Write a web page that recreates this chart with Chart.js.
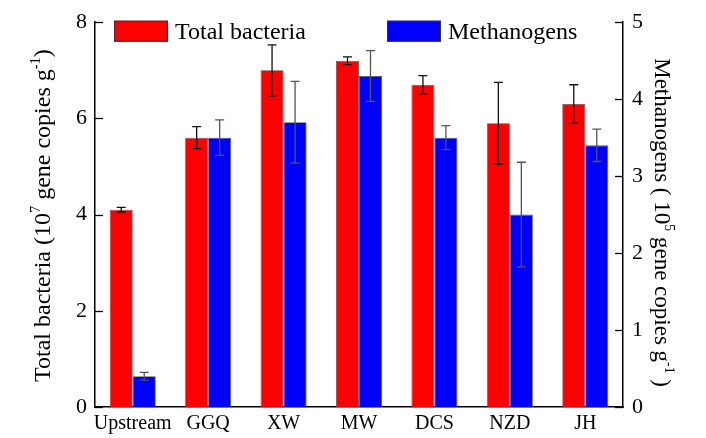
<!DOCTYPE html>
<html>
<head>
<meta charset="utf-8">
<script src="https://cdn.jsdelivr.net/npm/chart.js@4.4.1/dist/chart.umd.min.js"></script>
<style>
  html, body { margin: 0; padding: 0; background: #fff; }
  #wrap { width: 706px; height: 438px; position: relative; }
</style>
</head>
<body>
<div id="wrap"><canvas id="c" width="706" height="438"></canvas></div>
<script>
const categories = ["Upstream", "GGQ", "XW", "MW", "DCS", "NZD", "JH"];
const bacteria = [4.1, 5.6, 7.0, 7.2, 6.7, 5.9, 6.3];
const bacteriaErr = [0.05, 0.23, 0.53, 0.08, 0.19, 0.85, 0.40];
const methanogens = [0.4, 3.5, 3.7, 4.3, 3.5, 2.5, 3.4];
const methanogensErr = [0.05, 0.23, 0.53, 0.33, 0.155, 0.68, 0.21];
const leftTicks = [0, 2, 4, 6, 8];
const rightTicks = [0, 1, 2, 3, 4, 5];
const seriesNames = ["Total bacteria", "Methanogens"];

const FONT = '"Liberation Serif", "Times New Roman", serif';

function richText(ctx, parts, size) {
  let w = 0;
  parts.forEach(p => {
    ctx.font = (p.sup ? size * 0.6 : size) + 'px ' + FONT;
    w += ctx.measureText(p.t).width;
  });
  return w;
}
function drawRich(ctx, parts, cx, cy, rot, size) {
  ctx.save();
  ctx.translate(cx, cy);
  ctx.rotate(rot);
  const w = richText(ctx, parts, size);
  let x = -w / 2;
  ctx.fillStyle = '#000';
  ctx.textBaseline = 'alphabetic';
  ctx.textAlign = 'left';
  parts.forEach(p => {
    const s = p.sup ? size * 0.6 : size;
    ctx.font = s + 'px ' + FONT;
    ctx.fillText(p.t, x, p.sup ? -size * 0.42 : 0);
    x += ctx.measureText(p.t).width;
  });
  ctx.restore();
}

const extrasPlugin = {
  id: 'extras',
  afterDatasetsDraw(chart) {
    const ctx = chart.ctx;
    const area = chart.chartArea;
    // error bars
    const errs = [bacteriaErr, methanogensErr];
    const colors = ['#111', '#555'];
    chart.data.datasets.forEach((ds, di) => {
      const meta = chart.getDatasetMeta(di);
      const scale = chart.scales[ds.yAxisID];
      meta.data.forEach((bar, i) => {
        const v = ds.data[i], e = errs[di][i];
        const yTop = scale.getPixelForValue(v + e);
        const yBot = scale.getPixelForValue(v - e);
        const x = bar.x;
        ctx.save();
        ctx.strokeStyle = colors[di];
        ctx.lineWidth = 1.3;
        ctx.beginPath();
        ctx.moveTo(x, yTop); ctx.lineTo(x, yBot);
        ctx.moveTo(x - 4.5, yTop); ctx.lineTo(x + 4.5, yTop);
        ctx.moveTo(x - 4.5, yBot); ctx.lineTo(x + 4.5, yBot);
        ctx.stroke();
        ctx.restore();
      });
    });
    // inward ticks
    ctx.save();
    ctx.strokeStyle = '#000';
    ctx.lineWidth = 1.3;
    const yl = chart.scales.yL, yr = chart.scales.yR;
    yl.ticks.forEach(t => {
      const y = Math.round(yl.getPixelForValue(t.value)) + 0.5;
      ctx.beginPath(); ctx.moveTo(area.left, y); ctx.lineTo(area.left + 8, y); ctx.stroke();
    });
    yr.ticks.forEach(t => {
      const y = Math.round(yr.getPixelForValue(t.value)) + 0.5;
      ctx.beginPath(); ctx.moveTo(area.right, y); ctx.lineTo(area.right - 8, y); ctx.stroke();
    });
    ctx.restore();
    // legend
    const legendFill = ['#FF0000', '#0000FF'];
    const boxX = [area.left + 19, area.left + 292];
    ctx.save();
    seriesNames.forEach((name, i) => {
      ctx.fillStyle = legendFill[i];
      ctx.fillRect(boxX[i], area.top - 1.5, 54, 21);
      ctx.strokeStyle = '#333';
      ctx.lineWidth = 1;
      ctx.strokeRect(boxX[i] + 0.5, area.top - 1.5 + 0.5, 53, 20);
      ctx.fillStyle = '#000';
      ctx.font = '24px ' + FONT;
      ctx.textBaseline = 'alphabetic';
      ctx.textAlign = 'left';
      ctx.fillText(name, boxX[i] + 61, area.top + 16.5);
    });
    ctx.restore();
    // axis titles
    drawRich(ctx, [
      {t: 'Total bacteria (10'}, {t: '7', sup: true}, {t: ' gene copies g'}, {t: '-1', sup: true}, {t: ')'}
    ], 50, (area.top + area.bottom) / 2 + 1, -Math.PI / 2, 24);
    drawRich(ctx, [
      {t: 'Methanogens ( 10'}, {t: '5', sup: true}, {t: ' gene copies g'}, {t: '-1', sup: true}, {t: ' )'}
    ], 655, (area.top + area.bottom) / 2 + 8, Math.PI / 2, 23);
  }
};

new Chart(document.getElementById('c'), {
  type: 'bar',
  data: {
    labels: categories,
    datasets: [
      { label: seriesNames[0], data: bacteria, yAxisID: 'yL', backgroundColor: '#FF0000', borderColor: '#555', borderWidth: 0.8, borderSkipped: 'bottom' },
      { label: seriesNames[1], data: methanogens, yAxisID: 'yR', backgroundColor: '#0000FF', borderColor: '#555', borderWidth: 0.8, borderSkipped: 'bottom' }
    ]
  },
  options: {
    responsive: false,
    animation: false,
    devicePixelRatio: 1,
    layout: { padding: { top: 19, left: 0, right: 0, bottom: 0 } },
    plugins: { legend: { display: false }, tooltip: { enabled: false } },
    datasets: { bar: { categoryPercentage: 0.61, barPercentage: 1.0 } },
    scales: {
      x: {
        grid: { display: false, drawTicks: false },
        border: { display: true, color: '#000', width: 1.5 },
        ticks: { color: '#000', font: { family: FONT, size: 20 }, padding: 5, maxRotation: 0, autoSkip: false },
        afterFit(s) { s.height = 31; }
      },
      yL: {
        position: 'left',
        min: 0, max: 8,
        afterBuildTicks(s) { s.ticks = leftTicks.map(v => ({ value: v })); },
        grid: { display: false, drawTicks: false },
        border: { display: true, color: '#000', width: 1.5 },
        ticks: { color: '#000', font: { family: FONT, size: 22 }, padding: 8 },
        afterFit(s) { s.width = 95; }
      },
      yR: {
        position: 'right',
        min: 0, max: 5,
        afterBuildTicks(s) { s.ticks = rightTicks.map(v => ({ value: v })); },
        grid: { display: false, drawTicks: false },
        border: { display: true, color: '#000', width: 1.5 },
        ticks: { color: '#000', font: { family: FONT, size: 22 }, padding: 9 },
        afterFit(s) { s.width = 83; }
      }
    }
  },
  plugins: [extrasPlugin]
});
</script>
</body>
</html>
